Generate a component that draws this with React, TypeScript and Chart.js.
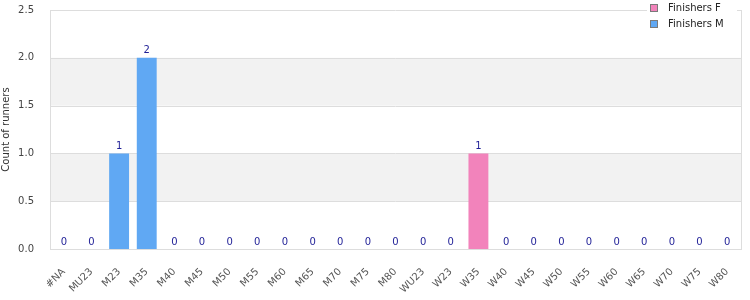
import React, { useEffect, useRef } from "react";
import { Chart, registerables } from "chart.js";

Chart.register(...registerables);

const categories = ["#NA","MU23","M23","M35","M40","M45","M50","M55","M60","M65","M70","M75","M80","WU23","W23","W35","W40","W45","W50","W55","W60","W65","W70","W75","W80"];
const finishersF = [0,0,0,0,0,0,0,0,0,0,0,0,0,0,0,1,0,0,0,0,0,0,0,0,0];
const finishersM = [0,0,1,2,0,0,0,0,0,0,0,0,0,0,0,0,0,0,0,0,0,0,0,0,0];
const yTicks = [0, 0.5, 1, 1.5, 2, 2.5];

const FONT = "'DejaVu Sans', sans-serif";
const PINK = "#f283bb";
const BLUE = "#60a8f3";

const bandsPlugin = {
  id: "bands",
  beforeDatasetsDraw(chart: any) {
    const { ctx, chartArea, scales } = chart;
    const y = scales.y;
    ctx.save();
    ctx.fillStyle = "#f2f2f2";
    for (let i = 1; i < yTicks.length - 1; i += 2) {
      const y0 = y.getPixelForValue(yTicks[i]);
      const y1 = y.getPixelForValue(yTicks[i + 1]);
      ctx.fillRect(chartArea.left + 1, y1, chartArea.right - chartArea.left - 1, y0 - y1);
    }
    ctx.strokeStyle = "#dddddd";
    ctx.lineWidth = 1;
    for (const t of yTicks) {
      const py = Math.round(y.getPixelForValue(t)) + 0.5;
      ctx.beginPath();
      ctx.moveTo(chartArea.left, py);
      ctx.lineTo(chartArea.right, py);
      ctx.stroke();
    }
    ctx.beginPath();
    ctx.moveTo(Math.round(chartArea.left) + 0.5, chartArea.top);
    ctx.lineTo(Math.round(chartArea.left) + 0.5, chartArea.bottom);
    ctx.moveTo(Math.round(chartArea.right) + 0.5, chartArea.top);
    ctx.lineTo(Math.round(chartArea.right) + 0.5, chartArea.bottom);
    ctx.stroke();
    ctx.restore();
  },
};

const labelsPlugin = {
  id: "totals",
  afterDatasetsDraw(chart: any) {
    const { ctx, scales } = chart;
    ctx.save();
    ctx.fillStyle = "#1e1e96";
    ctx.font = `10px ${FONT}`;
    ctx.textAlign = "center";
    ctx.textBaseline = "bottom";
    categories.forEach((_, i) => {
      const total = finishersF[i] + finishersM[i];
      const px = scales.x.getPixelForValue(i);
      const py = scales.y.getPixelForValue(total);
      ctx.fillText(String(total), px, py - 2);
    });
    ctx.restore();
  },
};

const legendPlugin = {
  id: "customLegend",
  afterDraw(chart: any) {
    const { ctx } = chart;
    const items = [
      { label: "Finishers F", color: PINK },
      { label: "Finishers M", color: BLUE },
    ];
    ctx.save();
    ctx.fillStyle = "#ffffff";
    ctx.fillRect(647, 0, 90, 12);
    ctx.font = `10px ${FONT}`;
    ctx.textBaseline = "middle";
    ctx.textAlign = "left";
    items.forEach((it, i) => {
      const cy = 8 + i * 16;
      ctx.fillStyle = it.color;
      ctx.fillRect(650.5, cy - 3.5, 7, 7);
      ctx.strokeStyle = "#7a7a7a";
      ctx.lineWidth = 1;
      ctx.strokeRect(650.5, cy - 3.5, 7, 7);
      ctx.fillStyle = "#222222";
      ctx.fillText(it.label, 668, cy);
    });
    ctx.restore();
  },
};

export default function App() {
  const ref = useRef<HTMLCanvasElement>(null);
  useEffect(() => {
    document.body.style.margin = "0";
    const chart = new Chart(ref.current!, {
      type: "bar",
      data: {
        labels: categories,
        datasets: [
          { label: "Finishers F", data: finishersF, backgroundColor: PINK, barPercentage: 0.8, categoryPercentage: 0.9 },
          { label: "Finishers M", data: finishersM, backgroundColor: BLUE, barPercentage: 0.8, categoryPercentage: 0.9 },
        ],
      },
      options: {
        animation: false,
        responsive: false,
        devicePixelRatio: 1,
        layout: { padding: { top: 10, right: 9, left: 0, bottom: 0 } },
        plugins: { legend: { display: false }, tooltip: { enabled: false } },
        scales: {
          x: {
            stacked: true,
            grid: { display: false },
            border: { display: true, color: "#dddddd" },
            ticks: { color: "#555555", font: { family: FONT, size: 10 }, maxRotation: 45, minRotation: 45, autoSkip: false, padding: 9 },
            afterFit(scale: any) { scale.height = 51; scale.paddingLeft = 0; scale.paddingRight = 0; },
          },
          y: {
            stacked: true,
            min: 0,
            max: 2.5,
            grid: { display: false },
            border: { display: false },
            ticks: { stepSize: 0.5, color: "#444444", font: { family: FONT, size: 10 }, padding: 8, callback: (v: any) => Number(v).toFixed(1) },
            title: { display: true, text: "Count of runners", color: "#333333", font: { family: FONT, size: 10 }, padding: 0 },
            afterFit(scale: any) { scale.width = 50; scale.paddingTop = 0; scale.paddingBottom = 0; },
          },
        },
      },
      plugins: [bandsPlugin, labelsPlugin, legendPlugin],
    });
    return () => chart.destroy();
  }, []);
  return (
    <div style={{ width: 750, height: 300 }}>
      <canvas ref={ref} width={750} height={300} />
    </div>
  );
}
